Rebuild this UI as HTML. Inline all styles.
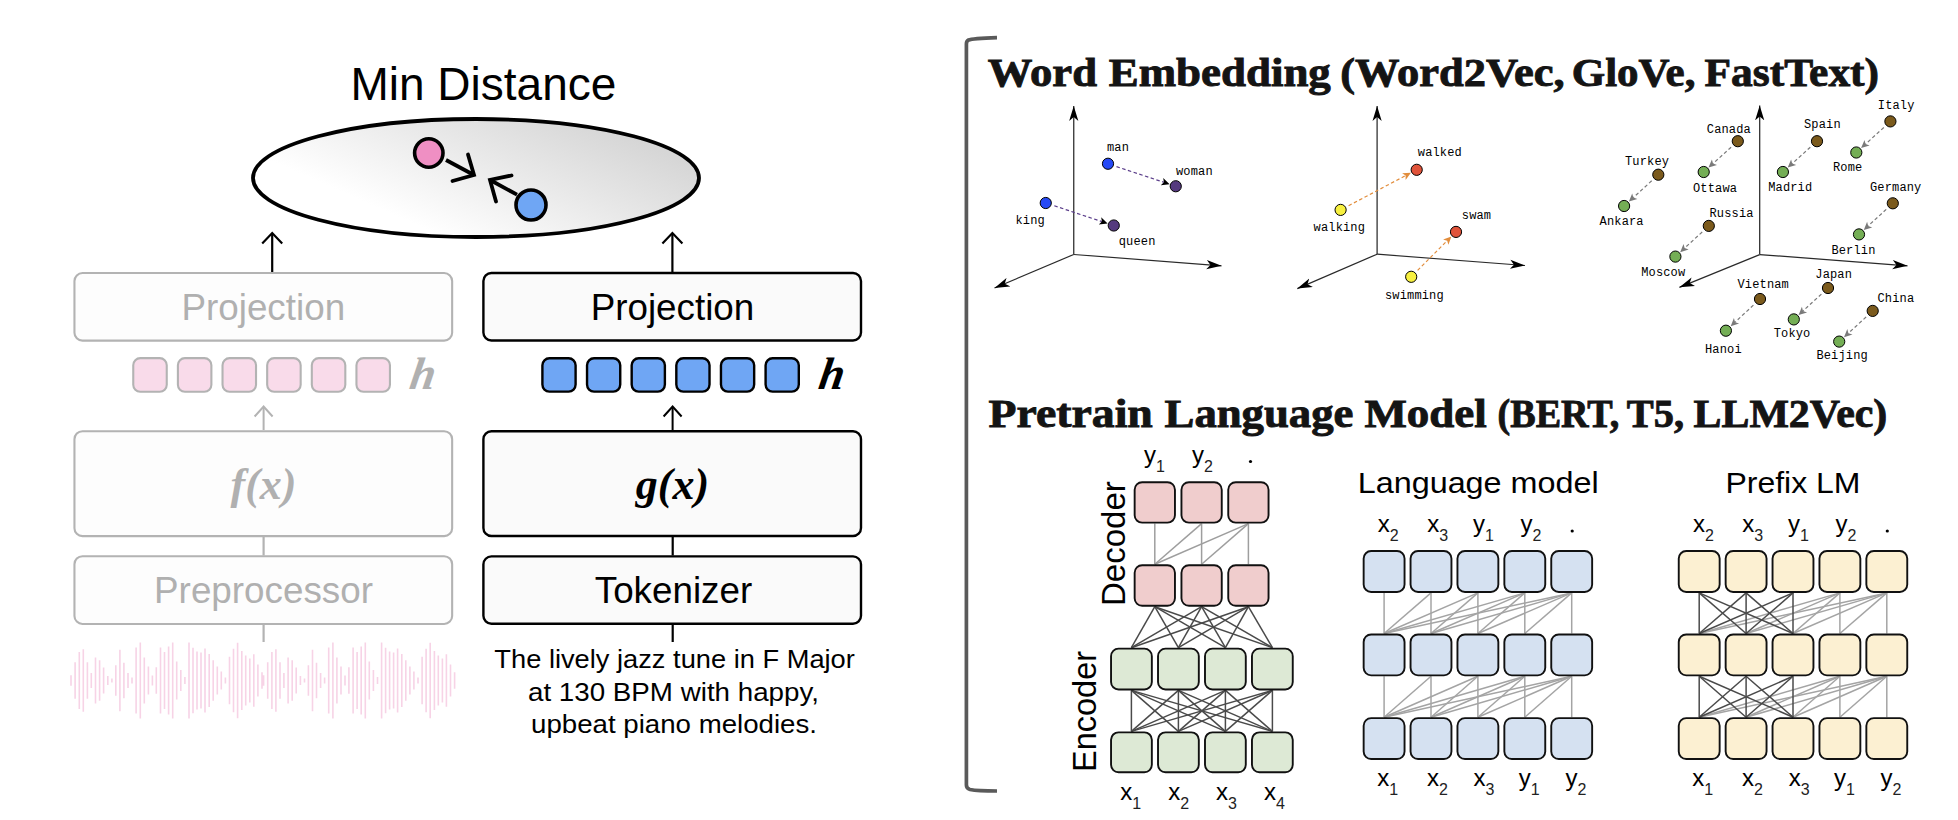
<!DOCTYPE html>
<html><head><meta charset="utf-8"><title>Embedding overview</title>
<style>
html,body{margin:0;padding:0;background:#fff;}
body{width:1958px;height:820px;overflow:hidden;font-family:"Liberation Sans", sans-serif;}
svg{display:block;}
.s{font-family:"Liberation Sans", sans-serif;}
.m{font-family:"Liberation Mono", monospace;}
</style></head><body>
<svg width="1958" height="820" viewBox="0 0 1958 820">
<defs>
<linearGradient id="eg" gradientUnits="userSpaceOnUse" x1="545" y1="100" x2="478" y2="252">
<stop offset="0" stop-color="#d6d6d6"/><stop offset="1" stop-color="#ffffff"/>
</linearGradient>
<marker id="ah" viewBox="0 -5 15 10" refX="15" refY="0" markerWidth="15" markerHeight="10" markerUnits="userSpaceOnUse" orient="auto">
<path d="M15,0 L0,-4.6 L3.9,0 L0,4.6 z" fill="#000"/></marker>
</defs>
<rect width="1958" height="820" fill="#fff"/>

<text x="483.4" y="100.3" font-size="46" text-anchor="middle" class="s" fill="#000">Min Distance</text>
<ellipse cx="476" cy="178" rx="223" ry="59" fill="url(#eg)" stroke="#000" stroke-width="3.8"/>
<line x1="446" y1="160" x2="473" y2="174.5" stroke="#000" stroke-width="3.8"/>
<polyline points="468,154.5 474,175 452.5,181" fill="none" stroke="#000" stroke-width="3.8" stroke-linecap="round" stroke-linejoin="miter"/>
<line x1="517" y1="194.6" x2="491" y2="180.5" stroke="#000" stroke-width="3.8"/>
<polyline points="511.5,175.5 490,180 496,201.5" fill="none" stroke="#000" stroke-width="3.8" stroke-linecap="round"/>
<circle cx="428.8" cy="153" r="14.2" fill="#ef8fc3" stroke="#000" stroke-width="3.6"/>
<circle cx="531" cy="205" r="15" fill="#6fa6f4" stroke="#000" stroke-width="3.6"/>
<line x1="272.2" y1="234" x2="272.2" y2="272" stroke="#000" stroke-width="2.2"/>
<polyline points="262.2,243.5 272.2,233 282.2,243.5" fill="none" stroke="#000" stroke-width="2.2"/>
<rect x="74.45" y="273.05" width="377.70" height="67.60" rx="8" ry="8" fill="#fdfdfd" stroke="#b3b3b3" stroke-width="2.1"/>
<text x="263.3" y="319.8" font-size="36.8" text-anchor="middle" class="s" fill="#b0b0b0">Projection</text>
<rect x="133.25" y="358.15" width="33.50" height="33.60" rx="7" ry="7" fill="#f9dbea" stroke="#b3b3b3" stroke-width="2.1"/>
<rect x="177.89" y="358.15" width="33.50" height="33.60" rx="7" ry="7" fill="#f9dbea" stroke="#b3b3b3" stroke-width="2.1"/>
<rect x="222.53" y="358.15" width="33.50" height="33.60" rx="7" ry="7" fill="#f9dbea" stroke="#b3b3b3" stroke-width="2.1"/>
<rect x="267.17" y="358.15" width="33.50" height="33.60" rx="7" ry="7" fill="#f9dbea" stroke="#b3b3b3" stroke-width="2.1"/>
<rect x="311.81" y="358.15" width="33.50" height="33.60" rx="7" ry="7" fill="#f9dbea" stroke="#b3b3b3" stroke-width="2.1"/>
<rect x="356.45" y="358.15" width="33.50" height="33.60" rx="7" ry="7" fill="#f9dbea" stroke="#b3b3b3" stroke-width="2.1"/>
<text transform="translate(421,388.5) skewX(-9)" x="0" y="0" font-size="45.5" text-anchor="middle" font-family='"Liberation Serif", serif' font-weight="bold" font-style="italic" fill="#b0b0b0">h</text>
<line x1="263.6" y1="407.5" x2="263.6" y2="430" stroke="#b3b3b3" stroke-width="2.0"/>
<polyline points="254.60000000000002,416.5 263.6,406.5 272.6,416.5" fill="none" stroke="#b3b3b3" stroke-width="2.0"/>
<rect x="74.45" y="431.25" width="377.70" height="104.90" rx="8" ry="8" fill="#fdfdfd" stroke="#b3b3b3" stroke-width="2.1"/>
<text x="263.5" y="499" font-size="44" text-anchor="middle" font-family='"Liberation Serif", serif' font-weight="bold" font-style="italic" fill="#b0b0b0">f(x)</text>
<line x1="263.6" y1="537" x2="263.6" y2="555.5" stroke="#b3b3b3" stroke-width="2.2"/>
<rect x="74.45" y="556.25" width="377.70" height="67.70" rx="8" ry="8" fill="#fdfdfd" stroke="#b3b3b3" stroke-width="2.1"/>
<text x="263.5" y="602.5" font-size="36.8" text-anchor="middle" class="s" fill="#b0b0b0">Preprocessor</text>
<line x1="263.6" y1="624.5" x2="263.6" y2="642" stroke="#b3b3b3" stroke-width="2.2"/>
<path d="M71.0,675.3V685.7M75.1,662.2V698.8M79.3,652.1V708.9M83.3,649.2V711.8M87.4,662.2V698.8M91.3,672.9V688.1M95.5,657.6V703.4M99.6,660.2V700.8M103.6,667.5V693.5M107.8,675.9V685.1M111.9,678.5V682.5M115.8,665.3V695.7M119.9,649.8V711.2M123.9,662.8V698.2M128.0,672.9V688.1M132.0,677.5V683.5M136.1,647.5V713.5M140.3,642.5V718.5M144.3,657.5V703.5M148.4,666.5V694.5M152.4,675.5V685.5M156.3,667.3V693.7M160.5,647.5V713.5M164.5,652.1V708.9M168.6,646.6V714.4M172.7,642.5V718.5M176.7,661.4V699.6M180.8,670.1V690.9M184.9,677.1V683.9M189.0,642.5V718.5M193.0,647.7V713.3M197.0,651.5V709.5M201.0,652.5V708.5M205.0,648.5V712.5M209.2,654.0V707.0M213.2,660.3V700.7M217.3,666.5V694.5M221.3,671.5V689.5M225.4,677.4V683.6M229.5,656.8V704.2M233.5,648.7V712.3M237.6,642.7V718.3M241.8,650.9V710.1M245.7,655.6V705.4M249.8,658.5V702.5M253.8,654.3V706.7M257.9,664.5V696.5M262.0,672.3V688.7M263.6,675.3V685.7M267.7,662.2V698.8M271.9,652.1V708.9M275.9,649.2V711.8M280.0,662.2V698.8M283.9,672.9V688.1M288.1,657.6V703.4M292.2,660.2V700.8M296.2,667.5V693.5M300.4,675.9V685.1M304.5,678.5V682.5M308.4,665.3V695.7M312.5,649.8V711.2M316.5,662.8V698.2M320.6,672.9V688.1M324.6,677.5V683.5M328.7,647.5V713.5M332.9,642.5V718.5M336.9,657.5V703.5M341.0,666.5V694.5M345.0,675.5V685.5M348.9,667.3V693.7M353.1,647.5V713.5M357.1,652.1V708.9M361.2,646.6V714.4M365.3,642.5V718.5M369.3,661.4V699.6M373.4,670.1V690.9M377.5,677.1V683.9M381.6,642.5V718.5M385.6,647.7V713.3M389.6,651.5V709.5M393.6,652.5V708.5M397.6,648.5V712.5M401.8,654.0V707.0M405.8,660.3V700.7M409.9,666.5V694.5M413.9,671.5V689.5M418.0,677.4V683.6M422.1,656.8V704.2M426.1,648.7V712.3M430.2,642.7V718.3M434.4,650.9V710.1M438.3,655.6V705.4M442.4,658.5V702.5M446.4,654.3V706.7M450.5,664.5V696.5M454.6,672.3V688.7" stroke="#f7d3e6" stroke-width="1.6" fill="none"/>
<line x1="672.4" y1="234" x2="672.4" y2="272" stroke="#000" stroke-width="2.2"/>
<polyline points="662.4,243.5 672.4,233 682.4,243.5" fill="none" stroke="#000" stroke-width="2.2"/>
<rect x="483.40" y="273.00" width="377.60" height="67.50" rx="8" ry="8" fill="#fafafa" stroke="#000" stroke-width="2.4"/>
<text x="672.5" y="319.8" font-size="36.8" text-anchor="middle" class="s" fill="#000">Projection</text>
<rect x="542.40" y="358.30" width="33.20" height="33.30" rx="7" ry="7" fill="#6fa6f4" stroke="#000" stroke-width="2.4"/>
<rect x="587.04" y="358.30" width="33.20" height="33.30" rx="7" ry="7" fill="#6fa6f4" stroke="#000" stroke-width="2.4"/>
<rect x="631.68" y="358.30" width="33.20" height="33.30" rx="7" ry="7" fill="#6fa6f4" stroke="#000" stroke-width="2.4"/>
<rect x="676.32" y="358.30" width="33.20" height="33.30" rx="7" ry="7" fill="#6fa6f4" stroke="#000" stroke-width="2.4"/>
<rect x="720.96" y="358.30" width="33.20" height="33.30" rx="7" ry="7" fill="#6fa6f4" stroke="#000" stroke-width="2.4"/>
<rect x="765.60" y="358.30" width="33.20" height="33.30" rx="7" ry="7" fill="#6fa6f4" stroke="#000" stroke-width="2.4"/>
<text transform="translate(830,388.5) skewX(-9)" x="0" y="0" font-size="45.5" text-anchor="middle" font-family='"Liberation Serif", serif' font-weight="bold" font-style="italic" fill="#000">h</text>
<line x1="672.6" y1="407.5" x2="672.6" y2="430" stroke="#000" stroke-width="2.0"/>
<polyline points="663.6,416.5 672.6,406.5 681.6,416.5" fill="none" stroke="#000" stroke-width="2.0"/>
<rect x="483.40" y="431.20" width="377.60" height="104.80" rx="8" ry="8" fill="#fafafa" stroke="#000" stroke-width="2.4"/>
<text x="672.5" y="499" font-size="44" text-anchor="middle" font-family='"Liberation Serif", serif' font-weight="bold" font-style="italic" fill="#000">g(x)</text>
<line x1="672.7" y1="537" x2="672.7" y2="555.5" stroke="#000" stroke-width="2.2"/>
<rect x="483.40" y="556.40" width="377.60" height="67.40" rx="8" ry="8" fill="#fafafa" stroke="#000" stroke-width="2.4"/>
<text x="673.5" y="602.5" font-size="36.8" text-anchor="middle" class="s" fill="#000">Tokenizer</text>
<line x1="672.7" y1="624.5" x2="672.7" y2="642" stroke="#000" stroke-width="2.2"/>
<text x="674.6" y="668" font-size="25.8" text-anchor="middle" class="s" fill="#000" textLength="360.5" lengthAdjust="spacingAndGlyphs">The lively jazz tune in F Major</text>
<text x="673.5" y="700.7" font-size="25.8" text-anchor="middle" class="s" fill="#000" textLength="291" lengthAdjust="spacingAndGlyphs">at 130 BPM with happy,</text>
<text x="674" y="732.8" font-size="25.8" text-anchor="middle" class="s" fill="#000" textLength="286" lengthAdjust="spacingAndGlyphs">upbeat piano melodies.</text>
<path d="M997,37.6 C985,38 972,38.5 968.5,40 Q966.4,41 966.4,44 V785 Q966.4,788.5 970,789.5 C975,790.5 985,791 997,791" fill="none" stroke="#5a5a5a" stroke-width="3.7"/>
<text x="987.80" y="86.3" font-size="41" font-family='"Liberation Serif", serif' font-weight="bold" fill="#141414" stroke="#141414" stroke-width="0.9" textLength="109.20" lengthAdjust="spacingAndGlyphs">Word</text>
<text x="1108.80" y="86.3" font-size="41" font-family='"Liberation Serif", serif' font-weight="bold" fill="#141414" stroke="#141414" stroke-width="0.9" textLength="222.00" lengthAdjust="spacingAndGlyphs">Embedding</text>
<text x="1340.20" y="86.3" font-size="41" font-family='"Liberation Serif", serif' font-weight="bold" fill="#141414" stroke="#141414" stroke-width="0.9" textLength="224.40" lengthAdjust="spacingAndGlyphs">(Word2Vec,</text>
<text x="1571.80" y="86.3" font-size="41" font-family='"Liberation Serif", serif' font-weight="bold" fill="#141414" stroke="#141414" stroke-width="0.9" textLength="123.60" lengthAdjust="spacingAndGlyphs">GloVe,</text>
<text x="1704.60" y="86.3" font-size="41" font-family='"Liberation Serif", serif' font-weight="bold" fill="#141414" stroke="#141414" stroke-width="0.9" textLength="174.40" lengthAdjust="spacingAndGlyphs">FastText)</text>
<text x="988.60" y="427.2" font-size="41" font-family='"Liberation Serif", serif' font-weight="bold" fill="#141414" stroke="#141414" stroke-width="0.9" textLength="164.20" lengthAdjust="spacingAndGlyphs">Pretrain</text>
<text x="1164.60" y="427.2" font-size="41" font-family='"Liberation Serif", serif' font-weight="bold" fill="#141414" stroke="#141414" stroke-width="0.9" textLength="188.80" lengthAdjust="spacingAndGlyphs">Language</text>
<text x="1364.40" y="427.2" font-size="41" font-family='"Liberation Serif", serif' font-weight="bold" fill="#141414" stroke="#141414" stroke-width="0.9" textLength="122.40" lengthAdjust="spacingAndGlyphs">Model</text>
<text x="1497.60" y="427.2" font-size="41" font-family='"Liberation Serif", serif' font-weight="bold" fill="#141414" stroke="#141414" stroke-width="0.9" textLength="121.80" lengthAdjust="spacingAndGlyphs">(BERT,</text>
<text x="1626.80" y="427.2" font-size="41" font-family='"Liberation Serif", serif' font-weight="bold" fill="#141414" stroke="#141414" stroke-width="0.9" textLength="57.20" lengthAdjust="spacingAndGlyphs">T5,</text>
<text x="1693.60" y="427.2" font-size="41" font-family='"Liberation Serif", serif' font-weight="bold" fill="#141414" stroke="#141414" stroke-width="0.9" textLength="193.60" lengthAdjust="spacingAndGlyphs">LLM2Vec)</text>
<line x1="1073.75" y1="254.5" x2="1073.75" y2="106" stroke="#2a2a2a" stroke-width="1.25" marker-end="url(#ah)"/>
<line x1="1073.75" y1="254.5" x2="1221.5" y2="265.8" stroke="#2a2a2a" stroke-width="1.25" marker-end="url(#ah)"/>
<line x1="1073.75" y1="254.5" x2="994.5" y2="288" stroke="#2a2a2a" stroke-width="1.25" marker-end="url(#ah)"/>
<line x1="1116.5" y1="166.6" x2="1163.9" y2="182.3" stroke="#5a3d8a" stroke-width="1.2" stroke-dasharray="3.5,2.5"/>
<path d="M1169.6,184.2 L1160.8,185.3 L1163.9,182.3 L1163.2,178.1 z" fill="#000"/>
<line x1="1054.3" y1="205.8" x2="1101.9" y2="221.6" stroke="#5a3d8a" stroke-width="1.2" stroke-dasharray="3.5,2.5"/>
<path d="M1107.6,223.5 L1098.8,224.6 L1101.9,221.6 L1101.2,217.3 z" fill="#000"/>
<circle cx="1108" cy="163.75" r="5.6" fill="#2649f5" stroke="#000" stroke-width="1"/>
<circle cx="1175.75" cy="186.25" r="5.6" fill="#553a7e" stroke="#000" stroke-width="1"/>
<circle cx="1045.75" cy="203" r="5.6" fill="#2649f5" stroke="#000" stroke-width="1"/>
<circle cx="1113.75" cy="225.5" r="5.6" fill="#553a7e" stroke="#000" stroke-width="1"/>
<text x="1107" y="151.3" font-size="12" class="m" fill="#000" letter-spacing="0.15">man</text>
<text x="1176" y="175.3" font-size="12" class="m" fill="#000" letter-spacing="0.15">woman</text>
<text x="1015.5" y="223.8" font-size="12" class="m" fill="#000" letter-spacing="0.15">king</text>
<text x="1118.75" y="245.3" font-size="12" class="m" fill="#000" letter-spacing="0.15">queen</text>
<line x1="1377.1" y1="254.2" x2="1377.1" y2="106" stroke="#2a2a2a" stroke-width="1.25" marker-end="url(#ah)"/>
<line x1="1377.1" y1="254.2" x2="1525" y2="265.5" stroke="#2a2a2a" stroke-width="1.25" marker-end="url(#ah)"/>
<line x1="1377.1" y1="254.2" x2="1297.3" y2="288.6" stroke="#2a2a2a" stroke-width="1.25" marker-end="url(#ah)"/>
<line x1="1348.6" y1="205.7" x2="1405.6" y2="175.6" stroke="#e28d3c" stroke-width="1.2" stroke-dasharray="3.5,2.5"/>
<path d="M1410.9,172.8 L1405.6,179.9 L1405.6,175.6 L1402.1,173.2 z" fill="#e28d3c"/>
<line x1="1417.6" y1="270.4" x2="1447.2" y2="240.7" stroke="#e28d3c" stroke-width="1.2" stroke-dasharray="3.5,2.5"/>
<path d="M1451.4,236.5 L1448.4,244.8 L1447.2,240.7 L1443.1,239.5 z" fill="#e28d3c"/>
<circle cx="1416.7" cy="169.8" r="5.6" fill="#e0533a" stroke="#000" stroke-width="1"/>
<circle cx="1340.6" cy="209.9" r="5.6" fill="#f7f040" stroke="#000" stroke-width="1"/>
<circle cx="1456" cy="231.9" r="5.6" fill="#e0533a" stroke="#000" stroke-width="1"/>
<circle cx="1411.2" cy="276.8" r="5.6" fill="#f7f040" stroke="#000" stroke-width="1"/>
<text x="1417.8" y="155.6" font-size="12" class="m" fill="#000" letter-spacing="0.15">walked</text>
<text x="1313.6" y="231.4" font-size="12" class="m" fill="#000" letter-spacing="0.15">walking</text>
<text x="1461.8" y="219.1" font-size="12" class="m" fill="#000" letter-spacing="0.15">swam</text>
<text x="1385" y="298.6" font-size="12" class="m" fill="#000" letter-spacing="0.15">swimming</text>
<line x1="1759.7" y1="254.6" x2="1759.7" y2="105.4" stroke="#2a2a2a" stroke-width="1.25" marker-end="url(#ah)"/>
<line x1="1759.7" y1="254.6" x2="1907.5" y2="265.8" stroke="#2a2a2a" stroke-width="1.25" marker-end="url(#ah)"/>
<line x1="1759.7" y1="254.6" x2="1679.4" y2="287.3" stroke="#2a2a2a" stroke-width="1.25" marker-end="url(#ah)"/>
<line x1="1883.8" y1="127.5" x2="1865.5" y2="144.1" stroke="#7a7a7a" stroke-width="1.2" stroke-dasharray="3.5,2.5"/>
<path d="M1861.1,148.1 L1864.5,139.9 L1865.5,144.1 L1869.6,145.5 z" fill="#7a7a7a"/>
<line x1="1810.3" y1="147.2" x2="1792.2" y2="163.6" stroke="#7a7a7a" stroke-width="1.2" stroke-dasharray="3.5,2.5"/>
<path d="M1787.7,167.6 L1791.1,159.5 L1792.2,163.6 L1796.2,165.1 z" fill="#7a7a7a"/>
<line x1="1731.1" y1="147.2" x2="1713.0" y2="163.6" stroke="#7a7a7a" stroke-width="1.2" stroke-dasharray="3.5,2.5"/>
<path d="M1708.5,167.6 L1711.9,159.5 L1713.0,163.6 L1717.0,165.1 z" fill="#7a7a7a"/>
<line x1="1651.7" y1="180.8" x2="1633.3" y2="197.6" stroke="#7a7a7a" stroke-width="1.2" stroke-dasharray="3.5,2.5"/>
<path d="M1628.9,201.6 L1632.2,193.4 L1633.3,197.6 L1637.4,199.0 z" fill="#7a7a7a"/>
<line x1="1702.2" y1="232.0" x2="1684.6" y2="248.1" stroke="#7a7a7a" stroke-width="1.2" stroke-dasharray="3.5,2.5"/>
<path d="M1680.2,252.2 L1683.5,244.0 L1684.6,248.1 L1688.6,249.6 z" fill="#7a7a7a"/>
<line x1="1886.2" y1="209.4" x2="1868.2" y2="225.9" stroke="#7a7a7a" stroke-width="1.2" stroke-dasharray="3.5,2.5"/>
<path d="M1863.8,230.0 L1867.1,221.8 L1868.2,225.9 L1872.2,227.4 z" fill="#7a7a7a"/>
<line x1="1821.4" y1="294.1" x2="1803.0" y2="310.9" stroke="#7a7a7a" stroke-width="1.2" stroke-dasharray="3.5,2.5"/>
<path d="M1798.6,315.0 L1801.9,306.8 L1803.0,310.9 L1807.1,312.4 z" fill="#7a7a7a"/>
<line x1="1753.4" y1="305.1" x2="1735.1" y2="322.2" stroke="#7a7a7a" stroke-width="1.2" stroke-dasharray="3.5,2.5"/>
<path d="M1730.7,326.3 L1733.9,318.0 L1735.1,322.2 L1739.1,323.6 z" fill="#7a7a7a"/>
<line x1="1866.1" y1="317.0" x2="1848.4" y2="333.2" stroke="#7a7a7a" stroke-width="1.2" stroke-dasharray="3.5,2.5"/>
<path d="M1844.0,337.2 L1847.3,329.0 L1848.4,333.2 L1852.5,334.6 z" fill="#7a7a7a"/>
<circle cx="1890.4" cy="121.4" r="5.6" fill="#7b5a1c" stroke="#000" stroke-width="1"/>
<circle cx="1856.3" cy="152.5" r="5.6" fill="#74ae55" stroke="#000" stroke-width="1"/>
<text x="1877.8" y="108.6" font-size="12" class="m" fill="#000" letter-spacing="0.15">Italy</text>
<text x="1833" y="171.0" font-size="12" class="m" fill="#000" letter-spacing="0.15">Rome</text>
<circle cx="1817" cy="141.2" r="5.6" fill="#7b5a1c" stroke="#000" stroke-width="1"/>
<circle cx="1782.9" cy="172" r="5.6" fill="#74ae55" stroke="#000" stroke-width="1"/>
<text x="1804" y="128.4" font-size="12" class="m" fill="#000" letter-spacing="0.15">Spain</text>
<text x="1768.2" y="190.8" font-size="12" class="m" fill="#000" letter-spacing="0.15">Madrid</text>
<circle cx="1737.8" cy="141.2" r="5.6" fill="#7b5a1c" stroke="#000" stroke-width="1"/>
<circle cx="1703.7" cy="172" r="5.6" fill="#74ae55" stroke="#000" stroke-width="1"/>
<text x="1706.8" y="132.5" font-size="12" class="m" fill="#000" letter-spacing="0.15">Canada</text>
<text x="1693" y="191.5" font-size="12" class="m" fill="#000" letter-spacing="0.15">Ottawa</text>
<circle cx="1658.3" cy="174.7" r="5.6" fill="#7b5a1c" stroke="#000" stroke-width="1"/>
<circle cx="1624.1" cy="206" r="5.6" fill="#74ae55" stroke="#000" stroke-width="1"/>
<text x="1625" y="165.2" font-size="12" class="m" fill="#000" letter-spacing="0.15">Turkey</text>
<text x="1599.6" y="225.0" font-size="12" class="m" fill="#000" letter-spacing="0.15">Ankara</text>
<circle cx="1708.8" cy="225.9" r="5.6" fill="#7b5a1c" stroke="#000" stroke-width="1"/>
<circle cx="1675.4" cy="256.6" r="5.6" fill="#74ae55" stroke="#000" stroke-width="1"/>
<text x="1709.5" y="217.1" font-size="12" class="m" fill="#000" letter-spacing="0.15">Russia</text>
<text x="1641.2" y="276.2" font-size="12" class="m" fill="#000" letter-spacing="0.15">Moscow</text>
<circle cx="1892.8" cy="203.3" r="5.6" fill="#7b5a1c" stroke="#000" stroke-width="1"/>
<circle cx="1859" cy="234.4" r="5.6" fill="#74ae55" stroke="#000" stroke-width="1"/>
<text x="1870" y="190.5" font-size="12" class="m" fill="#000" letter-spacing="0.15">Germany</text>
<text x="1831.4" y="253.7" font-size="12" class="m" fill="#000" letter-spacing="0.15">Berlin</text>
<circle cx="1828" cy="288" r="5.6" fill="#7b5a1c" stroke="#000" stroke-width="1"/>
<circle cx="1793.8" cy="319.4" r="5.6" fill="#74ae55" stroke="#000" stroke-width="1"/>
<text x="1815.3" y="277.8" font-size="12" class="m" fill="#000" letter-spacing="0.15">Japan</text>
<text x="1773.7" y="337.3" font-size="12" class="m" fill="#000" letter-spacing="0.15">Tokyo</text>
<circle cx="1760" cy="299" r="5.6" fill="#7b5a1c" stroke="#000" stroke-width="1"/>
<circle cx="1725.9" cy="330.7" r="5.6" fill="#74ae55" stroke="#000" stroke-width="1"/>
<text x="1737.5" y="288.1" font-size="12" class="m" fill="#000" letter-spacing="0.15">Vietnam</text>
<text x="1705" y="353.0" font-size="12" class="m" fill="#000" letter-spacing="0.15">Hanoi</text>
<circle cx="1872.7" cy="310.9" r="5.6" fill="#7b5a1c" stroke="#000" stroke-width="1"/>
<circle cx="1839.2" cy="341.6" r="5.6" fill="#74ae55" stroke="#000" stroke-width="1"/>
<text x="1877.5" y="301.8" font-size="12" class="m" fill="#000" letter-spacing="0.15">China</text>
<text x="1816.4" y="358.8" font-size="12" class="m" fill="#000" letter-spacing="0.15">Beijing</text>
<line x1="1154.8" y1="523.6" x2="1154.8" y2="564.3" stroke="#9e9e9e" stroke-width="1.5"/>
<line x1="1201.6" y1="523.6" x2="1154.8" y2="564.3" stroke="#9e9e9e" stroke-width="1.5"/>
<line x1="1201.6" y1="523.6" x2="1201.6" y2="564.3" stroke="#9e9e9e" stroke-width="1.5"/>
<line x1="1248.4" y1="523.6" x2="1154.8" y2="564.3" stroke="#9e9e9e" stroke-width="1.5"/>
<line x1="1248.4" y1="523.6" x2="1201.6" y2="564.3" stroke="#9e9e9e" stroke-width="1.5"/>
<line x1="1248.4" y1="523.6" x2="1248.4" y2="564.3" stroke="#9e9e9e" stroke-width="1.5"/>
<line x1="1154.8" y1="606.7" x2="1131.4" y2="647.7" stroke="#4a4a4a" stroke-width="1.5"/>
<line x1="1154.8" y1="606.7" x2="1178.4" y2="647.7" stroke="#4a4a4a" stroke-width="1.5"/>
<line x1="1154.8" y1="606.7" x2="1225.4" y2="647.7" stroke="#4a4a4a" stroke-width="1.5"/>
<line x1="1154.8" y1="606.7" x2="1272.4" y2="647.7" stroke="#4a4a4a" stroke-width="1.5"/>
<line x1="1201.6" y1="606.7" x2="1131.4" y2="647.7" stroke="#4a4a4a" stroke-width="1.5"/>
<line x1="1201.6" y1="606.7" x2="1178.4" y2="647.7" stroke="#4a4a4a" stroke-width="1.5"/>
<line x1="1201.6" y1="606.7" x2="1225.4" y2="647.7" stroke="#4a4a4a" stroke-width="1.5"/>
<line x1="1201.6" y1="606.7" x2="1272.4" y2="647.7" stroke="#4a4a4a" stroke-width="1.5"/>
<line x1="1248.4" y1="606.7" x2="1131.4" y2="647.7" stroke="#4a4a4a" stroke-width="1.5"/>
<line x1="1248.4" y1="606.7" x2="1178.4" y2="647.7" stroke="#4a4a4a" stroke-width="1.5"/>
<line x1="1248.4" y1="606.7" x2="1225.4" y2="647.7" stroke="#4a4a4a" stroke-width="1.5"/>
<line x1="1248.4" y1="606.7" x2="1272.4" y2="647.7" stroke="#4a4a4a" stroke-width="1.5"/>
<line x1="1131.4" y1="690.4" x2="1131.4" y2="731.4" stroke="#4a4a4a" stroke-width="1.5"/>
<line x1="1131.4" y1="690.4" x2="1178.4" y2="731.4" stroke="#4a4a4a" stroke-width="1.5"/>
<line x1="1131.4" y1="690.4" x2="1225.4" y2="731.4" stroke="#4a4a4a" stroke-width="1.5"/>
<line x1="1131.4" y1="690.4" x2="1272.4" y2="731.4" stroke="#4a4a4a" stroke-width="1.5"/>
<line x1="1178.4" y1="690.4" x2="1131.4" y2="731.4" stroke="#4a4a4a" stroke-width="1.5"/>
<line x1="1178.4" y1="690.4" x2="1178.4" y2="731.4" stroke="#4a4a4a" stroke-width="1.5"/>
<line x1="1178.4" y1="690.4" x2="1225.4" y2="731.4" stroke="#4a4a4a" stroke-width="1.5"/>
<line x1="1178.4" y1="690.4" x2="1272.4" y2="731.4" stroke="#4a4a4a" stroke-width="1.5"/>
<line x1="1225.4" y1="690.4" x2="1131.4" y2="731.4" stroke="#4a4a4a" stroke-width="1.5"/>
<line x1="1225.4" y1="690.4" x2="1178.4" y2="731.4" stroke="#4a4a4a" stroke-width="1.5"/>
<line x1="1225.4" y1="690.4" x2="1225.4" y2="731.4" stroke="#4a4a4a" stroke-width="1.5"/>
<line x1="1225.4" y1="690.4" x2="1272.4" y2="731.4" stroke="#4a4a4a" stroke-width="1.5"/>
<line x1="1272.4" y1="690.4" x2="1131.4" y2="731.4" stroke="#4a4a4a" stroke-width="1.5"/>
<line x1="1272.4" y1="690.4" x2="1178.4" y2="731.4" stroke="#4a4a4a" stroke-width="1.5"/>
<line x1="1272.4" y1="690.4" x2="1225.4" y2="731.4" stroke="#4a4a4a" stroke-width="1.5"/>
<line x1="1272.4" y1="690.4" x2="1272.4" y2="731.4" stroke="#4a4a4a" stroke-width="1.5"/>
<rect x="1134.65" y="482.25" width="40.30" height="40.40" rx="7.5" ry="7.5" fill="#f0cdcd" stroke="#111" stroke-width="1.9"/>
<rect x="1181.45" y="482.25" width="40.30" height="40.40" rx="7.5" ry="7.5" fill="#f0cdcd" stroke="#111" stroke-width="1.9"/>
<rect x="1228.25" y="482.25" width="40.30" height="40.40" rx="7.5" ry="7.5" fill="#f0cdcd" stroke="#111" stroke-width="1.9"/>
<rect x="1134.65" y="565.25" width="40.30" height="40.50" rx="7.5" ry="7.5" fill="#f0cdcd" stroke="#111" stroke-width="1.9"/>
<rect x="1181.45" y="565.25" width="40.30" height="40.50" rx="7.5" ry="7.5" fill="#f0cdcd" stroke="#111" stroke-width="1.9"/>
<rect x="1228.25" y="565.25" width="40.30" height="40.50" rx="7.5" ry="7.5" fill="#f0cdcd" stroke="#111" stroke-width="1.9"/>
<rect x="1111.05" y="648.65" width="40.80" height="40.80" rx="7.5" ry="7.5" fill="#dde9d5" stroke="#111" stroke-width="1.9"/>
<rect x="1158.02" y="648.65" width="40.80" height="40.80" rx="7.5" ry="7.5" fill="#dde9d5" stroke="#111" stroke-width="1.9"/>
<rect x="1204.99" y="648.65" width="40.80" height="40.80" rx="7.5" ry="7.5" fill="#dde9d5" stroke="#111" stroke-width="1.9"/>
<rect x="1251.96" y="648.65" width="40.80" height="40.80" rx="7.5" ry="7.5" fill="#dde9d5" stroke="#111" stroke-width="1.9"/>
<rect x="1111.05" y="732.35" width="40.80" height="39.90" rx="7.5" ry="7.5" fill="#dde9d5" stroke="#111" stroke-width="1.9"/>
<rect x="1158.02" y="732.35" width="40.80" height="39.90" rx="7.5" ry="7.5" fill="#dde9d5" stroke="#111" stroke-width="1.9"/>
<rect x="1204.99" y="732.35" width="40.80" height="39.90" rx="7.5" ry="7.5" fill="#dde9d5" stroke="#111" stroke-width="1.9"/>
<rect x="1251.96" y="732.35" width="40.80" height="39.90" rx="7.5" ry="7.5" fill="#dde9d5" stroke="#111" stroke-width="1.9"/>
<text transform="translate(1124.6,606) rotate(-90)" font-size="33" class="s" fill="#000">Decoder</text>
<text transform="translate(1096,772) rotate(-90)" font-size="32.5" class="s" fill="#000">Encoder</text>
<text x="1144" y="463" font-size="24" class="s" fill="#000">y<tspan font-size="16" dy="9" fill="#222">1</tspan></text>
<text x="1192" y="463" font-size="24" class="s" fill="#000">y<tspan font-size="16" dy="9" fill="#222">2</tspan></text>
<circle cx="1250.5" cy="461.5" r="1.6" fill="#000"/>
<text x="1120.3" y="799.5" font-size="24" class="s" fill="#000">x<tspan font-size="16" dy="9" fill="#222">1</tspan></text>
<text x="1168.2" y="799.5" font-size="24" class="s" fill="#000">x<tspan font-size="16" dy="9" fill="#222">2</tspan></text>
<text x="1216.1" y="799.5" font-size="24" class="s" fill="#000">x<tspan font-size="16" dy="9" fill="#222">3</tspan></text>
<text x="1264.0" y="799.5" font-size="24" class="s" fill="#000">x<tspan font-size="16" dy="9" fill="#222">4</tspan></text>
<line x1="1384.1" y1="592.9" x2="1384.1" y2="633.5" stroke="#a4a4a4" stroke-width="1.5"/>
<line x1="1431.0" y1="592.9" x2="1384.1" y2="633.5" stroke="#a4a4a4" stroke-width="1.5"/>
<line x1="1431.0" y1="592.9" x2="1431.0" y2="633.5" stroke="#a4a4a4" stroke-width="1.5"/>
<line x1="1477.9" y1="592.9" x2="1384.1" y2="633.5" stroke="#a4a4a4" stroke-width="1.5"/>
<line x1="1477.9" y1="592.9" x2="1431.0" y2="633.5" stroke="#a4a4a4" stroke-width="1.5"/>
<line x1="1477.9" y1="592.9" x2="1477.9" y2="633.5" stroke="#a4a4a4" stroke-width="1.5"/>
<line x1="1524.8" y1="592.9" x2="1384.1" y2="633.5" stroke="#a4a4a4" stroke-width="1.5"/>
<line x1="1524.8" y1="592.9" x2="1431.0" y2="633.5" stroke="#a4a4a4" stroke-width="1.5"/>
<line x1="1524.8" y1="592.9" x2="1477.9" y2="633.5" stroke="#a4a4a4" stroke-width="1.5"/>
<line x1="1524.8" y1="592.9" x2="1524.8" y2="633.5" stroke="#a4a4a4" stroke-width="1.5"/>
<line x1="1571.7" y1="592.9" x2="1384.1" y2="633.5" stroke="#a4a4a4" stroke-width="1.5"/>
<line x1="1571.7" y1="592.9" x2="1431.0" y2="633.5" stroke="#a4a4a4" stroke-width="1.5"/>
<line x1="1571.7" y1="592.9" x2="1477.9" y2="633.5" stroke="#a4a4a4" stroke-width="1.5"/>
<line x1="1571.7" y1="592.9" x2="1524.8" y2="633.5" stroke="#a4a4a4" stroke-width="1.5"/>
<line x1="1571.7" y1="592.9" x2="1571.7" y2="633.5" stroke="#a4a4a4" stroke-width="1.5"/>
<line x1="1384.1" y1="676.3" x2="1384.1" y2="717.2" stroke="#a4a4a4" stroke-width="1.5"/>
<line x1="1431.0" y1="676.3" x2="1384.1" y2="717.2" stroke="#a4a4a4" stroke-width="1.5"/>
<line x1="1431.0" y1="676.3" x2="1431.0" y2="717.2" stroke="#a4a4a4" stroke-width="1.5"/>
<line x1="1477.9" y1="676.3" x2="1384.1" y2="717.2" stroke="#a4a4a4" stroke-width="1.5"/>
<line x1="1477.9" y1="676.3" x2="1431.0" y2="717.2" stroke="#a4a4a4" stroke-width="1.5"/>
<line x1="1477.9" y1="676.3" x2="1477.9" y2="717.2" stroke="#a4a4a4" stroke-width="1.5"/>
<line x1="1524.8" y1="676.3" x2="1384.1" y2="717.2" stroke="#a4a4a4" stroke-width="1.5"/>
<line x1="1524.8" y1="676.3" x2="1431.0" y2="717.2" stroke="#a4a4a4" stroke-width="1.5"/>
<line x1="1524.8" y1="676.3" x2="1477.9" y2="717.2" stroke="#a4a4a4" stroke-width="1.5"/>
<line x1="1524.8" y1="676.3" x2="1524.8" y2="717.2" stroke="#a4a4a4" stroke-width="1.5"/>
<line x1="1571.7" y1="676.3" x2="1384.1" y2="717.2" stroke="#a4a4a4" stroke-width="1.5"/>
<line x1="1571.7" y1="676.3" x2="1431.0" y2="717.2" stroke="#a4a4a4" stroke-width="1.5"/>
<line x1="1571.7" y1="676.3" x2="1477.9" y2="717.2" stroke="#a4a4a4" stroke-width="1.5"/>
<line x1="1571.7" y1="676.3" x2="1524.8" y2="717.2" stroke="#a4a4a4" stroke-width="1.5"/>
<line x1="1571.7" y1="676.3" x2="1571.7" y2="717.2" stroke="#a4a4a4" stroke-width="1.5"/>
<rect x="1363.65" y="551.05" width="40.90" height="40.90" rx="7.5" ry="7.5" fill="#d5e1f1" stroke="#111" stroke-width="1.9"/>
<rect x="1410.55" y="551.05" width="40.90" height="40.90" rx="7.5" ry="7.5" fill="#d5e1f1" stroke="#111" stroke-width="1.9"/>
<rect x="1457.45" y="551.05" width="40.90" height="40.90" rx="7.5" ry="7.5" fill="#d5e1f1" stroke="#111" stroke-width="1.9"/>
<rect x="1504.35" y="551.05" width="40.90" height="40.90" rx="7.5" ry="7.5" fill="#d5e1f1" stroke="#111" stroke-width="1.9"/>
<rect x="1551.25" y="551.05" width="40.90" height="40.90" rx="7.5" ry="7.5" fill="#d5e1f1" stroke="#111" stroke-width="1.9"/>
<rect x="1363.65" y="634.45" width="40.90" height="40.90" rx="7.5" ry="7.5" fill="#d5e1f1" stroke="#111" stroke-width="1.9"/>
<rect x="1410.55" y="634.45" width="40.90" height="40.90" rx="7.5" ry="7.5" fill="#d5e1f1" stroke="#111" stroke-width="1.9"/>
<rect x="1457.45" y="634.45" width="40.90" height="40.90" rx="7.5" ry="7.5" fill="#d5e1f1" stroke="#111" stroke-width="1.9"/>
<rect x="1504.35" y="634.45" width="40.90" height="40.90" rx="7.5" ry="7.5" fill="#d5e1f1" stroke="#111" stroke-width="1.9"/>
<rect x="1551.25" y="634.45" width="40.90" height="40.90" rx="7.5" ry="7.5" fill="#d5e1f1" stroke="#111" stroke-width="1.9"/>
<rect x="1363.65" y="718.15" width="40.90" height="40.90" rx="7.5" ry="7.5" fill="#d5e1f1" stroke="#111" stroke-width="1.9"/>
<rect x="1410.55" y="718.15" width="40.90" height="40.90" rx="7.5" ry="7.5" fill="#d5e1f1" stroke="#111" stroke-width="1.9"/>
<rect x="1457.45" y="718.15" width="40.90" height="40.90" rx="7.5" ry="7.5" fill="#d5e1f1" stroke="#111" stroke-width="1.9"/>
<rect x="1504.35" y="718.15" width="40.90" height="40.90" rx="7.5" ry="7.5" fill="#d5e1f1" stroke="#111" stroke-width="1.9"/>
<rect x="1551.25" y="718.15" width="40.90" height="40.90" rx="7.5" ry="7.5" fill="#d5e1f1" stroke="#111" stroke-width="1.9"/>
<text x="1377.8" y="532" font-size="24" class="s" fill="#000">x<tspan font-size="16" dy="9" fill="#222">2</tspan></text>
<text x="1427.2" y="532" font-size="24" class="s" fill="#000">x<tspan font-size="16" dy="9" fill="#222">3</tspan></text>
<text x="1473.0" y="532" font-size="24" class="s" fill="#000">y<tspan font-size="16" dy="9" fill="#222">1</tspan></text>
<text x="1520.5" y="532" font-size="24" class="s" fill="#000">y<tspan font-size="16" dy="9" fill="#222">2</tspan></text>
<circle cx="1572.2" cy="531" r="1.6" fill="#000"/>
<text x="1377.2" y="786" font-size="24" class="s" fill="#000">x<tspan font-size="16" dy="9" fill="#222">1</tspan></text>
<text x="1426.9" y="786" font-size="24" class="s" fill="#000">x<tspan font-size="16" dy="9" fill="#222">2</tspan></text>
<text x="1473.6" y="786" font-size="24" class="s" fill="#000">x<tspan font-size="16" dy="9" fill="#222">3</tspan></text>
<text x="1518.8" y="786" font-size="24" class="s" fill="#000">y<tspan font-size="16" dy="9" fill="#222">1</tspan></text>
<text x="1565.4999999999998" y="786" font-size="24" class="s" fill="#000">y<tspan font-size="16" dy="9" fill="#222">2</tspan></text>
<line x1="1839.9" y1="592.9" x2="1699.2" y2="633.5" stroke="#a4a4a4" stroke-width="1.5"/>
<line x1="1839.9" y1="592.9" x2="1746.1" y2="633.5" stroke="#a4a4a4" stroke-width="1.5"/>
<line x1="1839.9" y1="592.9" x2="1793.0" y2="633.5" stroke="#a4a4a4" stroke-width="1.5"/>
<line x1="1839.9" y1="592.9" x2="1839.9" y2="633.5" stroke="#a4a4a4" stroke-width="1.5"/>
<line x1="1886.8" y1="592.9" x2="1699.2" y2="633.5" stroke="#a4a4a4" stroke-width="1.5"/>
<line x1="1886.8" y1="592.9" x2="1746.1" y2="633.5" stroke="#a4a4a4" stroke-width="1.5"/>
<line x1="1886.8" y1="592.9" x2="1793.0" y2="633.5" stroke="#a4a4a4" stroke-width="1.5"/>
<line x1="1886.8" y1="592.9" x2="1839.9" y2="633.5" stroke="#a4a4a4" stroke-width="1.5"/>
<line x1="1886.8" y1="592.9" x2="1886.8" y2="633.5" stroke="#a4a4a4" stroke-width="1.5"/>
<line x1="1699.2" y1="592.9" x2="1699.2" y2="633.5" stroke="#4a4a4a" stroke-width="1.5"/>
<line x1="1699.2" y1="592.9" x2="1746.1" y2="633.5" stroke="#4a4a4a" stroke-width="1.5"/>
<line x1="1699.2" y1="592.9" x2="1793.0" y2="633.5" stroke="#4a4a4a" stroke-width="1.5"/>
<line x1="1746.1" y1="592.9" x2="1699.2" y2="633.5" stroke="#4a4a4a" stroke-width="1.5"/>
<line x1="1746.1" y1="592.9" x2="1746.1" y2="633.5" stroke="#4a4a4a" stroke-width="1.5"/>
<line x1="1746.1" y1="592.9" x2="1793.0" y2="633.5" stroke="#4a4a4a" stroke-width="1.5"/>
<line x1="1793.0" y1="592.9" x2="1699.2" y2="633.5" stroke="#4a4a4a" stroke-width="1.5"/>
<line x1="1793.0" y1="592.9" x2="1746.1" y2="633.5" stroke="#4a4a4a" stroke-width="1.5"/>
<line x1="1793.0" y1="592.9" x2="1793.0" y2="633.5" stroke="#4a4a4a" stroke-width="1.5"/>
<line x1="1839.9" y1="676.3" x2="1699.2" y2="717.2" stroke="#a4a4a4" stroke-width="1.5"/>
<line x1="1839.9" y1="676.3" x2="1746.1" y2="717.2" stroke="#a4a4a4" stroke-width="1.5"/>
<line x1="1839.9" y1="676.3" x2="1793.0" y2="717.2" stroke="#a4a4a4" stroke-width="1.5"/>
<line x1="1839.9" y1="676.3" x2="1839.9" y2="717.2" stroke="#a4a4a4" stroke-width="1.5"/>
<line x1="1886.8" y1="676.3" x2="1699.2" y2="717.2" stroke="#a4a4a4" stroke-width="1.5"/>
<line x1="1886.8" y1="676.3" x2="1746.1" y2="717.2" stroke="#a4a4a4" stroke-width="1.5"/>
<line x1="1886.8" y1="676.3" x2="1793.0" y2="717.2" stroke="#a4a4a4" stroke-width="1.5"/>
<line x1="1886.8" y1="676.3" x2="1839.9" y2="717.2" stroke="#a4a4a4" stroke-width="1.5"/>
<line x1="1886.8" y1="676.3" x2="1886.8" y2="717.2" stroke="#a4a4a4" stroke-width="1.5"/>
<line x1="1699.2" y1="676.3" x2="1699.2" y2="717.2" stroke="#4a4a4a" stroke-width="1.5"/>
<line x1="1699.2" y1="676.3" x2="1746.1" y2="717.2" stroke="#4a4a4a" stroke-width="1.5"/>
<line x1="1699.2" y1="676.3" x2="1793.0" y2="717.2" stroke="#4a4a4a" stroke-width="1.5"/>
<line x1="1746.1" y1="676.3" x2="1699.2" y2="717.2" stroke="#4a4a4a" stroke-width="1.5"/>
<line x1="1746.1" y1="676.3" x2="1746.1" y2="717.2" stroke="#4a4a4a" stroke-width="1.5"/>
<line x1="1746.1" y1="676.3" x2="1793.0" y2="717.2" stroke="#4a4a4a" stroke-width="1.5"/>
<line x1="1793.0" y1="676.3" x2="1699.2" y2="717.2" stroke="#4a4a4a" stroke-width="1.5"/>
<line x1="1793.0" y1="676.3" x2="1746.1" y2="717.2" stroke="#4a4a4a" stroke-width="1.5"/>
<line x1="1793.0" y1="676.3" x2="1793.0" y2="717.2" stroke="#4a4a4a" stroke-width="1.5"/>
<rect x="1678.75" y="551.05" width="40.90" height="40.90" rx="7.5" ry="7.5" fill="#fcf0d2" stroke="#111" stroke-width="1.9"/>
<rect x="1725.65" y="551.05" width="40.90" height="40.90" rx="7.5" ry="7.5" fill="#fcf0d2" stroke="#111" stroke-width="1.9"/>
<rect x="1772.55" y="551.05" width="40.90" height="40.90" rx="7.5" ry="7.5" fill="#fcf0d2" stroke="#111" stroke-width="1.9"/>
<rect x="1819.45" y="551.05" width="40.90" height="40.90" rx="7.5" ry="7.5" fill="#fcf0d2" stroke="#111" stroke-width="1.9"/>
<rect x="1866.35" y="551.05" width="40.90" height="40.90" rx="7.5" ry="7.5" fill="#fcf0d2" stroke="#111" stroke-width="1.9"/>
<rect x="1678.75" y="634.45" width="40.90" height="40.90" rx="7.5" ry="7.5" fill="#fcf0d2" stroke="#111" stroke-width="1.9"/>
<rect x="1725.65" y="634.45" width="40.90" height="40.90" rx="7.5" ry="7.5" fill="#fcf0d2" stroke="#111" stroke-width="1.9"/>
<rect x="1772.55" y="634.45" width="40.90" height="40.90" rx="7.5" ry="7.5" fill="#fcf0d2" stroke="#111" stroke-width="1.9"/>
<rect x="1819.45" y="634.45" width="40.90" height="40.90" rx="7.5" ry="7.5" fill="#fcf0d2" stroke="#111" stroke-width="1.9"/>
<rect x="1866.35" y="634.45" width="40.90" height="40.90" rx="7.5" ry="7.5" fill="#fcf0d2" stroke="#111" stroke-width="1.9"/>
<rect x="1678.75" y="718.15" width="40.90" height="40.90" rx="7.5" ry="7.5" fill="#fcf0d2" stroke="#111" stroke-width="1.9"/>
<rect x="1725.65" y="718.15" width="40.90" height="40.90" rx="7.5" ry="7.5" fill="#fcf0d2" stroke="#111" stroke-width="1.9"/>
<rect x="1772.55" y="718.15" width="40.90" height="40.90" rx="7.5" ry="7.5" fill="#fcf0d2" stroke="#111" stroke-width="1.9"/>
<rect x="1819.45" y="718.15" width="40.90" height="40.90" rx="7.5" ry="7.5" fill="#fcf0d2" stroke="#111" stroke-width="1.9"/>
<rect x="1866.35" y="718.15" width="40.90" height="40.90" rx="7.5" ry="7.5" fill="#fcf0d2" stroke="#111" stroke-width="1.9"/>
<text x="1692.8999999999999" y="532" font-size="24" class="s" fill="#000">x<tspan font-size="16" dy="9" fill="#222">2</tspan></text>
<text x="1742.3" y="532" font-size="24" class="s" fill="#000">x<tspan font-size="16" dy="9" fill="#222">3</tspan></text>
<text x="1788.1" y="532" font-size="24" class="s" fill="#000">y<tspan font-size="16" dy="9" fill="#222">1</tspan></text>
<text x="1835.6" y="532" font-size="24" class="s" fill="#000">y<tspan font-size="16" dy="9" fill="#222">2</tspan></text>
<circle cx="1887.3" cy="531" r="1.6" fill="#000"/>
<text x="1692.3" y="786" font-size="24" class="s" fill="#000">x<tspan font-size="16" dy="9" fill="#222">1</tspan></text>
<text x="1742.0" y="786" font-size="24" class="s" fill="#000">x<tspan font-size="16" dy="9" fill="#222">2</tspan></text>
<text x="1788.6999999999998" y="786" font-size="24" class="s" fill="#000">x<tspan font-size="16" dy="9" fill="#222">3</tspan></text>
<text x="1833.8999999999999" y="786" font-size="24" class="s" fill="#000">y<tspan font-size="16" dy="9" fill="#222">1</tspan></text>
<text x="1880.5999999999997" y="786" font-size="24" class="s" fill="#000">y<tspan font-size="16" dy="9" fill="#222">2</tspan></text>
<text x="1478.2" y="493.3" font-size="29.5" text-anchor="middle" class="s" fill="#000" textLength="241" lengthAdjust="spacingAndGlyphs">Language model</text>
<text x="1793" y="493.3" font-size="29.5" text-anchor="middle" class="s" fill="#000" textLength="135" lengthAdjust="spacingAndGlyphs">Prefix LM</text>
</svg></body></html>
